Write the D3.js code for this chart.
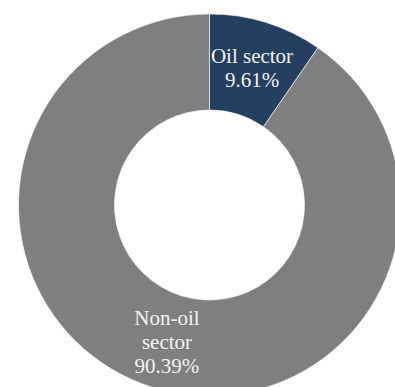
<!DOCTYPE html>
<html>
<head>
<meta charset="utf-8">
<script src="https://cdn.jsdelivr.net/npm/d3@7"></script>
<style>
  html, body { margin: 0; padding: 0; background: #fff; overflow: hidden; }
</style>
</head>
<body>
<div id="chart"></div>
<script>
var WIDTH = 395, HEIGHT = 387;

var sectors = ["Oil sector", "Non-oil sector"];
var shares = [9.61, 90.39];
var labelLines = [["Oil sector", "9.61%"], ["Non-oil", "sector", "90.39%"]];
var colors = ["#243f60", "#7f7f7f"];

var cx = 209.5, cy = 205;
var outerR = 191, innerR = 95;

var svg = d3.select("#chart")
  .append("svg")
  .attr("width", WIDTH)
  .attr("height", HEIGHT);

var pie = d3.pie().sort(null).value(function(d) { return d; });
var arc = d3.arc().innerRadius(innerR).outerRadius(outerR);

var g = svg.append("g").attr("transform", "translate(" + cx + "," + cy + ")");

var slices = g.selectAll("path")
  .data(pie(shares))
  .enter()
  .append("path")
    .attr("d", arc)
    .style("fill", function(d, i) { return colors[i]; })
    .style("stroke", "#ffffff")
    .style("stroke-width", 0.6);

var lineH = 24;
g.selectAll("text.lbl")
  .data(pie(shares))
  .enter()
  .append("text")
    .attr("class", "lbl")
    .attr("text-anchor", "middle")
    .style("font-family", "'Liberation Serif', 'DejaVu Serif', serif")
    .style("font-size", "21px")
    .style("fill", "#f2f2f2")
    .each(function(d, i) {
      var c = arc.centroid(d);
      var lines = labelLines[i];
      var y0 = c[1] - (lines.length - 1) * lineH / 2 + 7;
      var t = d3.select(this);
      lines.forEach(function(s, k) {
        t.append("tspan")
          .attr("x", c[0])
          .attr("y", y0 + k * lineH)
          .text(s);
      });
    });
</script>
</body>
</html>
